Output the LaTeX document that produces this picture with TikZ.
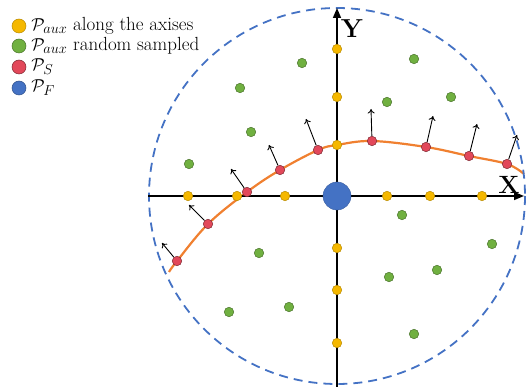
\documentclass[tikz,border=0pt]{standalone}
\usepackage{amsmath,amssymb}
\usepackage{tikz}
\usetikzlibrary{arrows.meta,positioning}
\definecolor{auxyellow}{HTML}{F5B800}
\definecolor{randgreen}{HTML}{70B040}
\definecolor{surfred}{HTML}{E2485A}
\definecolor{farblue}{HTML}{4472C4}
\definecolor{curveorange}{HTML}{F08030}
\pgfdeclarelayer{background}
\pgfsetlayers{background,main}

\begin{document}
\begin{tikzpicture}[x=1pt,y=-1pt,
  pt/.style={circle,inner sep=0pt,minimum size=9.5pt,line width=0.5pt},
  axispt/.style={pt,fill=auxyellow,draw=auxyellow!75!black},
  randpt/.style={pt,fill=randgreen,draw=randgreen!65!black},
  surfpt/.style={pt,fill=surfred,draw=surfred!55!black},
  normal/.style={-{To[length=4.5pt,width=7pt]},line width=0.9pt},
  legdot/.style={circle,inner sep=0pt,minimum size=14pt,line width=0.5pt},
  legtext/.style={anchor=west,inner sep=0pt,font=\fontsize{19}{22}\selectfont}]

\useasboundingbox (0,0) rectangle (527,387);

% Legend
\node[legdot,fill=auxyellow,draw=auxyellow!75!black] (lgaxis) at (19,26) {};
\node[legdot,fill=randgreen,draw=randgreen!65!black] (lgrand) at (19,46) {};
\node[legdot,fill=surfred,draw=surfred!55!black]     (lgsurf) at (19,67) {};
\node[legdot,fill=farblue,draw=farblue!70!black]     (lgfar)  at (19,88) {};
\node[legtext,right=5pt of lgaxis] {$\mathcal{P}_{aux}$ along the axises};
\node[legtext,right=5pt of lgrand] {$\mathcal{P}_{aux}$ random sampled};
\node[legtext,right=5pt of lgsurf] {$\mathcal{P}_{S}$};
\node[legtext,right=5pt of lgfar]  {$\mathcal{P}_{F}$};

% Sampling region
\coordinate (O) at (337,196);
\draw[farblue,line width=1.8pt,dash pattern=on 9pt off 6pt] (O) circle (188);

% Axes
\coordinate (xl) at (148,196);
\coordinate (xr) at (524,196);
\coordinate (yb) at (337,387);
\coordinate (yt) at (337,8);
\draw[line width=1.5pt,-{Triangle[length=10pt,width=8pt]}] (xl) -- (xr);
\draw[line width=1.5pt,-{Triangle[length=10pt,width=8pt]}] (yb) -- (yt);
\node[font=\fontsize{26}{26}\selectfont\bfseries] (ylab) at (352,29) {Y};
\node[font=\fontsize{25}{25}\selectfont\bfseries] (xlab) at (509,185) {X};

% Surface points
\node[surfpt] (s1) at (177,261) {};
\node[surfpt] (s2) at (208,224) {};
\node[surfpt] (s3) at (247,192) {};
\node[surfpt] (s4) at (280,170) {};
\node[surfpt] (s5) at (318,150) {};
\node[surfpt] (s6) at (372,141) {};
\node[surfpt] (s7) at (426,147) {};
\node[surfpt] (s8) at (469,156) {};
\node[surfpt] (s9) at (507,164) {};
\coordinate (cs) at (169,272);
\coordinate (cm) at (337,145);
\coordinate (ce) at (524,174);

% Normal tips
\coordinate (n1) at (162,243);
\coordinate (n2) at (189,205);
\coordinate (n3) at (231,169);
\coordinate (n4) at (269,145);
\coordinate (n5) at (306,119);
\coordinate (n6) at (371,109);
\coordinate (n7) at (433,116);
\coordinate (n8) at (477,124);
\coordinate (n9) at (517,135);

% Surface curve and normals (below the points)
\begin{pgfonlayer}{background}
\draw[curveorange,line width=2.2pt] plot[smooth,tension=0.6] coordinates
  {(cs) (s1.center) (s2.center) (s3.center) (s4.center) (s5.center) (cm)
   (s6.center) (s7.center) (s8.center) (s9.center) (ce)};
\foreach \i in {1,...,9}
  \draw[normal] (s\i) -- (n\i);
\end{pgfonlayer}

% Auxiliary points along the axes
\node[axispt] (ax1) at (188,196) {};
\node[axispt] (ax2) at (237,196) {};
\node[axispt] (ax3) at (285,196) {};
\node[axispt] (ax4) at (387,196) {};
\node[axispt] (ax5) at (430,196) {};
\node[axispt] (ax6) at (482,196) {};
\node[axispt] (ay1) at (337,49) {};
\node[axispt] (ay2) at (337,97) {};
\node[axispt] (ay3) at (337,145) {};
\node[axispt] (ay4) at (337,248) {};
\node[axispt] (ay5) at (337,290) {};
\node[axispt] (ay6) at (337,343) {};

% Auxiliary points, random sampled
\node[randpt] (r1)  at (240,88) {};
\node[randpt] (r2)  at (302,63) {};
\node[randpt] (r3)  at (414,59) {};
\node[randpt] (r4)  at (387,102) {};
\node[randpt] (r5)  at (451,97) {};
\node[randpt] (r6)  at (251,132) {};
\node[randpt] (r7)  at (189,164) {};
\node[randpt] (r8)  at (402,215) {};
\node[randpt] (r9)  at (259,253) {};
\node[randpt] (r10) at (492,244) {};
\node[randpt] (r11) at (389,277) {};
\node[randpt] (r12) at (437,270) {};
\node[randpt] (r13) at (229,312) {};
\node[randpt] (r14) at (289,307) {};
\node[randpt] (r15) at (414,334) {};

% Far point
\node[circle,inner sep=0pt,minimum size=28pt,fill=farblue,draw=farblue!80!black] (F) at (O) {};

\end{tikzpicture}
\end{document}
